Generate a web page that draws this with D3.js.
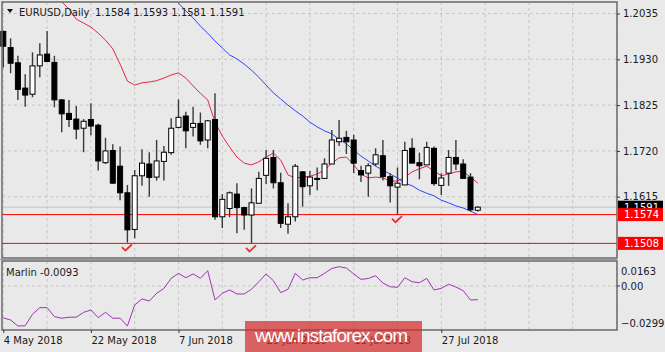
<!DOCTYPE html>
<html>
<head>
<meta charset="utf-8">
<script src="https://cdn.jsdelivr.net/npm/d3@7"></script>
<style>
body { margin: 0; background: #e9e9e9; }
svg { display: block; font-family: "DejaVu Sans", sans-serif; }
</style>
</head>
<body>
<div id="chart"></div>
<script>
// EURUSD daily, 4 May - 3 Aug 2018
const width = 665
const height = 352

const dates = ["4 May 2018", "7 May 2018", "8 May 2018", "9 May 2018", "10 May 2018", "11 May 2018", "14 May 2018", "15 May 2018", "16 May 2018", "17 May 2018",
    "18 May 2018", "21 May 2018", "22 May 2018", "23 May 2018", "24 May 2018", "25 May 2018", "28 May 2018", "29 May 2018", "30 May 2018", "31 May 2018",
    "1 Jun 2018", "4 Jun 2018", "5 Jun 2018", "6 Jun 2018", "7 Jun 2018", "8 Jun 2018", "11 Jun 2018", "12 Jun 2018", "13 Jun 2018", "14 Jun 2018",
    "15 Jun 2018", "18 Jun 2018", "19 Jun 2018", "20 Jun 2018", "21 Jun 2018", "22 Jun 2018", "25 Jun 2018", "26 Jun 2018", "27 Jun 2018", "28 Jun 2018",
    "29 Jun 2018", "2 Jul 2018", "3 Jul 2018", "4 Jul 2018", "5 Jul 2018", "6 Jul 2018", "9 Jul 2018", "10 Jul 2018", "11 Jul 2018", "12 Jul 2018",
    "13 Jul 2018", "16 Jul 2018", "17 Jul 2018", "18 Jul 2018", "19 Jul 2018", "20 Jul 2018", "23 Jul 2018", "24 Jul 2018", "25 Jul 2018", "26 Jul 2018",
    "27 Jul 2018", "30 Jul 2018", "31 Jul 2018", "1 Aug 2018", "2 Aug 2018", "3 Aug 2018"]

const opens = [1.1994, 1.1957, 1.1922, 1.1864, 1.1850, 1.1915, 1.1942, 1.1923, 1.1837, 1.1806,
    1.1793, 1.1772, 1.1792, 1.1779, 1.1693, 1.1721, 1.1685, 1.1624, 1.1540, 1.1663,
    1.1690, 1.1660, 1.1696, 1.1716, 1.1774, 1.1800, 1.1774, 1.1783, 1.1745, 1.1792,
    1.1569, 1.1588, 1.1621, 1.1590, 1.1573, 1.1600, 1.1664, 1.1705, 1.1647, 1.1552,
    1.1569, 1.1672, 1.1640, 1.1657, 1.1657, 1.1690, 1.1741, 1.1751, 1.1745, 1.1675,
    1.1669, 1.1690, 1.1709, 1.1661, 1.1637, 1.1642, 1.1726, 1.1693, 1.1688, 1.1726,
    1.1641, 1.1669, 1.1705, 1.1690, 1.1660, 1.1584]
const highs = [1.1996, 1.1978, 1.1938, 1.1896, 1.1946, 1.1967, 1.1995, 1.1938, 1.1839, 1.1837,
    1.1823, 1.1793, 1.1829, 1.1782, 1.1750, 1.1735, 1.1730, 1.1642, 1.1676, 1.1724,
    1.1717, 1.1745, 1.1731, 1.1795, 1.1838, 1.1810, 1.1821, 1.1808, 1.1791, 1.1852,
    1.1621, 1.1627, 1.1646, 1.1592, 1.1634, 1.1672, 1.1722, 1.1722, 1.1670, 1.1600,
    1.1690, 1.1674, 1.1674, 1.1682, 1.1703, 1.1768, 1.1791, 1.1766, 1.1757, 1.1686,
    1.1692, 1.1726, 1.1745, 1.1669, 1.1682, 1.1741, 1.1749, 1.1716, 1.1741, 1.1730,
    1.1669, 1.1722, 1.1745, 1.1701, 1.1669, 1.1593]
const lows = [1.1911, 1.1898, 1.1837, 1.1821, 1.1843, 1.1889, 1.1925, 1.1820, 1.1763, 1.1775,
    1.1747, 1.1717, 1.1756, 1.1675, 1.1690, 1.1645, 1.1607, 1.1510, 1.1520, 1.1640,
    1.1615, 1.1652, 1.1652, 1.1711, 1.1772, 1.1726, 1.1753, 1.1734, 1.1726, 1.1562,
    1.1543, 1.1568, 1.1531, 1.1539, 1.1508, 1.1600, 1.1644, 1.1634, 1.1543, 1.1530,
    1.1558, 1.1592, 1.1619, 1.1630, 1.1657, 1.1690, 1.1731, 1.1713, 1.1669, 1.1649,
    1.1615, 1.1686, 1.1652, 1.1602, 1.1575, 1.1642, 1.1692, 1.1655, 1.1688, 1.1640,
    1.1619, 1.1640, 1.1676, 1.1657, 1.1581, 1.1581]
const closes = [1.1960, 1.1921, 1.1861, 1.1848, 1.1915, 1.1940, 1.1925, 1.1837, 1.1805, 1.1792,
    1.1770, 1.1788, 1.1777, 1.1697, 1.1720, 1.1646, 1.1624, 1.1539, 1.1663, 1.1692,
    1.1659, 1.1697, 1.1717, 1.1772, 1.1797, 1.1766, 1.1783, 1.1743, 1.1789, 1.1569,
    1.1609, 1.1624, 1.1590, 1.1573, 1.1601, 1.1657, 1.1703, 1.1647, 1.1554, 1.1569,
    1.1685, 1.1638, 1.1660, 1.1655, 1.1690, 1.1745, 1.1749, 1.1741, 1.1692, 1.1665,
    1.1686, 1.1711, 1.1661, 1.1640, 1.1646, 1.1721, 1.1692, 1.1686, 1.1728, 1.1645,
    1.1658, 1.1705, 1.1690, 1.1657, 1.1585, 1.1591]

// red (fast) and blue (slow) moving averages
const maFast = [null, null, null, null, null, null, null, 1.2085, 1.2062, 1.2045,
    1.2022, 1.2013, 1.2004, 1.1990, 1.1974, 1.1954, 1.1919, 1.1880, 1.1871, 1.1876,
    1.1878, 1.1881, 1.1887, 1.1894, 1.1899, 1.1887, 1.1869, 1.1852, 1.1837, 1.1786,
    1.1754, 1.1729, 1.1706, 1.1692, 1.1688, 1.1695, 1.1706, 1.1715, 1.1699, 1.1665,
    1.1658, 1.1660, 1.1662, 1.1667, 1.1676, 1.1692, 1.1704, 1.1706, 1.1688, 1.1667,
    1.1658, 1.1660, 1.1658, 1.1651, 1.1651, 1.1660, 1.1672, 1.1679, 1.1685, 1.1674,
    1.1663, 1.1667, 1.1672, 1.1673, 1.1660, 1.1646]
const maSlow = [null, null, null, null, null, null, null, null, null, null,
    null, null, null, null, null, null, null, null, null, null,
    null, null, null, 1.2075, 1.2059, 1.2041, 1.2025, 1.2006, 1.1990, 1.1972,
    1.1956, 1.1940, 1.1931, 1.1919, 1.1905, 1.1889, 1.1871, 1.1853, 1.1839, 1.1825,
    1.1812, 1.1800, 1.1786, 1.1775, 1.1766, 1.1759, 1.1747, 1.1736, 1.1722, 1.1708,
    1.1697, 1.1685, 1.1676, 1.1667, 1.1658, 1.1646, 1.1640, 1.1630, 1.1623, 1.1617,
    1.1607, 1.1601, 1.1594, 1.1589, 1.1582, 1.1574]

const marlin = [-0.0217, -0.0231, -0.0272, -0.0270, -0.0192, -0.0147, -0.0147, -0.0208, -0.0219, -0.0212,
    -0.0212, -0.0179, -0.0163, -0.0215, -0.0179, -0.0219, -0.0219, -0.0272, -0.0129, -0.0088,
    -0.0102, -0.0050, -0.0016, 0.0052, 0.0086, 0.0056, 0.0082, 0.0052, 0.0104, -0.0095,
    -0.0050, -0.0027, -0.0054, -0.0054, -0.0022, 0.0029, 0.0082, 0.0036, -0.0045, -0.0022,
    0.0086, 0.0041, 0.0056, 0.0056, 0.0086, 0.0119, 0.0131, 0.0122, 0.0082, 0.0045,
    0.0051, 0.0070, 0.0020, -0.0005, -0.0009, 0.0056, 0.0029, 0.0022, 0.0052, -0.0027,
    -0.0016, 0.0012, -0.0007, -0.0032, -0.0095, -0.0093]

const priceTicks = [1.2035, 1.1930, 1.1825, 1.1720, 1.1615]
const marlinTicks = [0.0163, 0.00, -0.0299]
const levels = [1.1574, 1.1508]
const checkBars = [17, 34, 54]
const labelEvery = 12
const gridEvery = 6
const visibleBars = 84

const svg = d3.select("#chart")
    .append("svg")
    .attr("width", width)
    .attr("height", height)

// panels
const main = { left: 2, right: 617, top: 2, bottom: 258 }
const sub = { top: 261, bottom: 330 }

const x = d3.scaleLinear().domain([0, visibleBars]).range([3.3, 616.5])
const y = d3.scaleLinear().domain([1.14745, 1.20591]).range([main.bottom, main.top + 1])
const ym = d3.scaleLinear().domain([-0.0299, 0.0163]).range([sub.bottom, sub.top + 1])

svg.append("defs").append("clipPath").attr("id", "clipMain")
    .append("rect")
    .attr("x", main.left).attr("y", main.top)
    .attr("width", main.right - main.left).attr("height", main.bottom - main.top)

// grid
const grid = svg.append("g").attr("stroke", "#c6c6c6").attr("stroke-dasharray", "3,3")
const gridIdx = d3.range(0, visibleBars + 1, gridEvery)
grid.selectAll(".vg").data(gridIdx).join("line")
    .attr("x1", d => x(d)).attr("x2", d => x(d))
    .attr("y1", main.top).attr("y2", main.bottom)
grid.selectAll(".vgs").data(gridIdx).join("line")
    .attr("x1", d => x(d)).attr("x2", d => x(d))
    .attr("y1", sub.top).attr("y2", sub.bottom)
grid.selectAll(".hg").data(priceTicks).join("line")
    .attr("x1", main.left).attr("x2", main.right)
    .attr("y1", d => y(d)).attr("y2", d => y(d))
grid.append("line")
    .attr("x1", main.left).attr("x2", main.right)
    .attr("y1", ym(0)).attr("y2", ym(0))

// bid line
svg.append("line")
    .attr("x1", main.left).attr("x2", main.right)
    .attr("y1", y(closes[closes.length - 1])).attr("y2", y(closes[closes.length - 1]))
    .attr("stroke", "#c4c4c4")

// support levels
svg.append("g").selectAll("line").data(levels).join("line")
    .attr("x1", main.left).attr("x2", main.right)
    .attr("y1", d => y(d)).attr("y2", d => y(d))
    .attr("stroke", "#ff0000")

// moving averages
const maLine = d3.line()
    .defined(d => d != null)
    .x((d, i) => x(i))
    .y(d => y(d))
const lines = svg.append("g").attr("clip-path", "url(#clipMain)").attr("fill", "none")
lines.append("path").datum(maFast).attr("d", maLine).attr("stroke", "#e0284a").attr("stroke-width", 1)
lines.append("path").datum(maSlow).attr("d", maLine).attr("stroke", "#2f45ff").attr("stroke-width", 1)

// candles
const bars = d3.range(opens.length)
const candle = svg.append("g").selectAll("g").data(bars).join("g")
candle.append("line")
    .attr("x1", i => x(i)).attr("x2", i => x(i))
    .attr("y1", i => y(highs[i])).attr("y2", i => y(lows[i]))
    .attr("stroke", "#3a3a3a")
    .attr("stroke-width", 1.4)
candle.append("rect")
    .attr("x", i => x(i) - 2.5)
    .attr("width", 5)
    .attr("y", i => y(Math.max(opens[i], closes[i])))
    .attr("height", i => Math.max(1, Math.abs(y(opens[i]) - y(closes[i]))))
    .attr("fill", i => closes[i] >= opens[i] ? "#ffffff" : "#000000")
    .attr("stroke", "#000000")
    .attr("stroke-width", 1)

// check marks under the lows
svg.append("g").selectAll("path").data(checkBars).join("path")
    .attr("d", i => {
        const cx = x(i) - 2, cy = y(lows[i]) + 8
        return "M" + (cx - 3.5) + "," + (cy - 3.5) + "L" + cx + "," + cy + "L" + (cx + 6.5) + "," + (cy - 6)
    })
    .attr("fill", "none")
    .attr("stroke", "#e8322e")
    .attr("stroke-width", 1.8)

// marlin oscillator
svg.append("path")
    .datum(marlin)
    .attr("d", d3.line().x((d, i) => x(i)).y(d => ym(d)))
    .attr("fill", "none")
    .attr("stroke", "#a032b4")
    .attr("stroke-width", 1)

// frames
svg.append("rect")
    .attr("x", main.left).attr("y", main.top)
    .attr("width", main.right - main.left).attr("height", main.bottom - main.top)
    .attr("fill", "none").attr("stroke", "#6a6a6a").attr("stroke-width", 1.5)
svg.append("rect")
    .attr("x", main.left).attr("y", sub.top)
    .attr("width", main.right - main.left).attr("height", sub.bottom - sub.top)
    .attr("fill", "none").attr("stroke", "#6a6a6a").attr("stroke-width", 1.5)
svg.append("line")
    .attr("x1", 0).attr("x2", main.right)
    .attr("y1", (main.bottom + sub.top) / 2).attr("y2", (main.bottom + sub.top) / 2)
    .attr("stroke", "#9a9a9a").attr("stroke-width", 1)

// price axis
const yAxis = svg.append("g")
    .attr("transform", "translate(" + main.right + ",0)")
    .call(d3.axisRight(y).tickValues(priceTicks).tickFormat(d3.format(".4f")).tickSize(3).tickPadding(3))
yAxis.select(".domain").remove()
yAxis.selectAll("text").attr("fill", "#1a1a1a").style("font-size", "10px").style("font-family", "DejaVu Sans")
yAxis.selectAll("line").attr("stroke", "#333")

// price boxes on the axis
const boxes = [{ v: closes[closes.length - 1], c: "#000000" }].concat(levels.map(v => ({ v: v, c: "#ff0000" })))
const box = svg.append("g").selectAll("g").data(boxes).join("g")
    .attr("transform", d => "translate(" + (main.right + 1) + "," + y(d.v) + ")")
box.append("rect").attr("x", 0).attr("y", -6.5).attr("width", 45).attr("height", 13).attr("fill", d => d.c)
box.append("text").attr("x", 6).attr("dy", "0.36em")
    .attr("fill", "#ffffff").style("font-size", "10px")
    .text(d => d3.format(".4f")(d.v))

// marlin axis
const mAxis = svg.append("g")
    .selectAll("text").data(marlinTicks).join("text")
    .attr("x", main.right + 4)
    .attr("y", d => d === marlinTicks[0] ? ym(d) + 9 : d === marlinTicks[2] ? ym(d) - 7 : ym(d))
    .attr("dy", "0.36em")
    .attr("fill", "#1a1a2a")
    .style("font-size", "10px")
    .text(d => d === 0 ? "0.00" : d3.format(".4f")(d))
svg.append("line")
    .attr("x1", main.right).attr("x2", main.right + 3)
    .attr("y1", ym(0)).attr("y2", ym(0))
    .attr("stroke", "#333")

// date axis
const labelIdx = d3.range(0, dates.length, labelEvery)
const xAxis = svg.append("g")
    .attr("transform", "translate(0," + sub.bottom + ")")
    .call(d3.axisBottom(x).tickValues(labelIdx).tickFormat(i => dates[i]).tickSize(3).tickPadding(4))
xAxis.select(".domain").remove()
xAxis.selectAll("text").attr("text-anchor", "start").attr("fill", "#1a1a1a")
    .style("font-size", "10px").style("font-family", "DejaVu Sans")
xAxis.selectAll("line").attr("stroke", "#333")

// header
svg.append("path").attr("d", "M7,9L13,9L10,13Z").attr("fill", "#111")
svg.append("text").attr("x", 19).attr("y", 16).attr("fill", "#1a1a1a").style("font-size", "10px")
    .text("EURUSD,Daily")
svg.append("text").attr("x", 95).attr("y", 16).attr("fill", "#1a1a1a").style("font-size", "10px")
    .text([opens, highs, lows, closes].map(a => a[a.length - 1].toFixed(4)).join(" "))
svg.append("text").attr("x", 6).attr("y", 276).attr("fill", "#1a1a1a").style("font-size", "10px")
    .text("Marlin " + marlin[marlin.length - 1].toFixed(4))

// watermark
svg.append("rect").attr("x", 245).attr("y", 321).attr("width", 177).attr("height", 31)
    .attr("fill", "#d42c2c").attr("opacity", 0.72)
svg.append("text").attr("x", 255).attr("y", 342)
    .attr("fill", "#ffffff")
    .attr("textLength", 153)
    .style("font-family", "Liberation Sans")
    .style("font-size", "19px")
    .text("www.instaforex.com")
</script>
</body>
</html>
